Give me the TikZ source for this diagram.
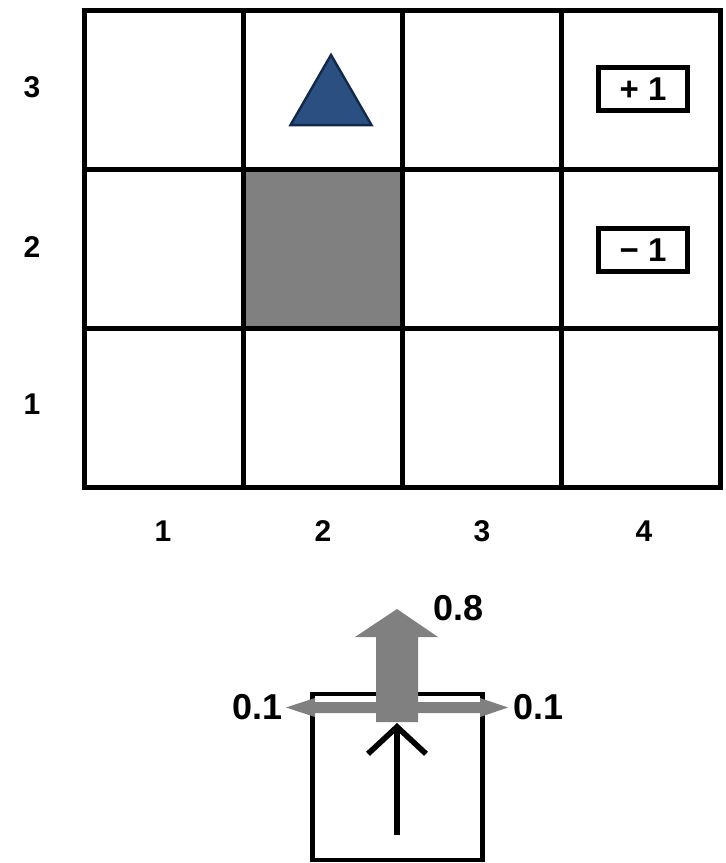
\documentclass[tikz,border=0pt]{standalone}
\usepackage{fontspec}
\setsansfont{Liberation Sans}
\usepackage{xcolor}
\usepackage{tikz}
\usetikzlibrary{positioning,shapes.geometric,arrows.meta,calc}
\definecolor{agent}{HTML}{2A4F80}
\definecolor{agentline}{HTML}{13294A}
\definecolor{wall}{HTML}{808080}
\definecolor{noise}{HTML}{808080}

\begin{document}
\begin{tikzpicture}[
  x=0.5pt, y=-0.5pt,
  font=\sffamily\bfseries,
  cell/.style   = {draw=black, line width=2.5pt, fill=white, minimum width=79.6pt,
                   minimum height=79.5pt, inner sep=0pt, outer sep=0pt},
  blocked/.style= {cell, fill=wall},
  axis/.style   = {font=\sffamily\bfseries\fontsize{15}{17}\selectfont},
  reward/.style = {draw=black, line width=2.2pt, minimum width=44.5pt, minimum height=21.5pt,
                   inner sep=0pt, font=\sffamily\bfseries\fontsize{16.5}{18}\selectfont},
  prob/.style   = {font=\sffamily\bfseries\fontsize{18}{20}\selectfont, inner sep=0pt},
  move/.style   = {-{Straight Barb[length=13.5pt,width=29pt]}, line width=2.8pt, draw=black},
]
\useasboundingbox[fill=white] (0,0) rectangle (725,863);

% ---- grid (columns 1..4, rows 1..3) ------------------------------------
\foreach \c in {1,...,4}
  \foreach \r in {1,2,3}
    \node[cell] (c\c\r) at ({84+159.25*(\c-0.5)}, {487-159*(\r-0.5)}) {};
\node[blocked] at (c22) {};
\draw[line width=2.5pt] (c11.south west) rectangle (c43.north east);

% agent and terminal rewards
\node[regular polygon, regular polygon sides=3, minimum size=46.8pt, inner sep=0pt,
      fill=agent, draw=agentline, line width=1.2pt] (agnt) at (331,101.7) {};
\node[reward] (plus)  at (643,89)  {+ 1};
\node[reward] (minus) at (643,250) {− 1};

% ---- axis labels --------------------------------------------------------
\foreach \r/\y in {3/87,2/247,1/404}
  \node[axis] (row\r) at (32,\y) {\r};
\foreach \c/\x in {1/163,2/323,3/482,4/644}
  \node[axis] (col\c) at (\x,531) {\c};

% ---- transition model ---------------------------------------------------
\node[draw=black, line width=2.2pt, minimum width=85pt, minimum height=83pt,
      inner sep=0pt, outer sep=0pt] (state) at (397.5,777) {};

\fill[noise] (286,707.5) -- (315,698) -- (315,702) -- (480,702) -- (480,698)
  -- (508,707.5) -- (480,717) -- (480,713) -- (315,713) -- (315,717) -- cycle;
\fill[noise] (376,722) -- (376,637) -- (355,637) -- (397,609) -- (438,637)
  -- (418,637) -- (418,722) -- cycle;

\node[prob, anchor=west] (p8) at (433,608) {0.8};
\node[prob, anchor=east] (pl) at (283,707) {0.1};
\node[prob, anchor=west] (pr) at (513,707) {0.1};

\coordinate (tail) at (397,835);
\coordinate (head) at (397,723);
\draw[move] (tail) -- (head);

\end{tikzpicture}
\end{document}
